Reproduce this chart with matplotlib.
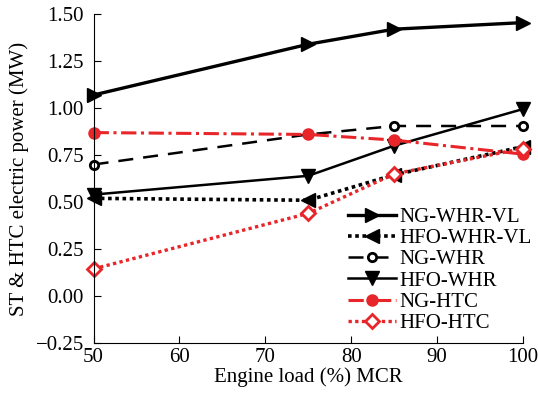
import matplotlib
matplotlib.use("Agg")
import matplotlib.pyplot as plt

plt.rcParams['font.family'] = ['Liberation Serif', 'DejaVu Serif']

load = [50, 75, 85, 100]
ng_whr_vl = [1.07, 1.34, 1.42, 1.455]
hfo_whr_vl = [0.52, 0.51, 0.645, 0.795]
ng_whr = [0.70, 0.86, 0.905, 0.905]
hfo_whr = [0.54, 0.64, 0.80, 0.995]
ng_htc = [0.87, 0.86, 0.83, 0.755]
hfo_htc = [0.145, 0.44, 0.65, 0.785]

fig = plt.figure(figsize=(5.38, 3.93), dpi=100)
ax = fig.add_axes([0.174, 0.127, 0.798, 0.837])

red = '#e8262a'
ax.plot(load, ng_whr_vl, color='black', lw=2.4, marker='>', ms=10, label='NG-WHR-VL', clip_on=False, zorder=5)
ax.plot(load, hfo_whr_vl, color='black', lw=2.6, ls=(0, (1, 1)), marker='<', ms=10, label='HFO-WHR-VL', clip_on=False)
ax.plot(load, ng_whr, color='black', lw=1.8, ls=(0, (6, 4)), marker='o', ms=6, mfc='white', mew=2, label='NG-WHR', clip_on=False)
ax.plot(load, hfo_whr, color='black', lw=1.8, marker='v', ms=10, mfc='black', label='HFO-WHR', clip_on=False)
ax.plot(load, ng_htc, color=red, lw=2.2, ls=(0, (5, 1.5, 1, 1.5)), marker='o', ms=8, label='NG-HTC', clip_on=False)
ax.plot(load, hfo_htc, color=red, lw=2.4, ls=(0, (1, 1)), marker='D', ms=7, mfc='white', mew=2, label='HFO-HTC', clip_on=False)

ax.set_xlim(50, 100)
ax.set_ylim(-0.25, 1.5)
ax.set_xticks([50, 60, 70, 80, 90, 100])
ax.set_yticks([-0.25, 0, 0.25, 0.5, 0.75, 1.0, 1.25, 1.5])
ax.set_yticklabels(['\u22120.25', '0.00', '0.25', '0.50', '0.75', '1.00', '1.25', '1.50'])
ax.tick_params(direction='in', labelsize=15, length=5)
ax.tick_params(axis='y', pad=7)
ax.spines['top'].set_visible(False)
ax.spines['right'].set_visible(False)
ax.set_xlabel('Engine load (%) MCR', fontsize=15, labelpad=0)
ax.set_ylabel('ST & HTC electric power (MW)', fontsize=15, labelpad=5)

ax.legend(loc='lower right', frameon=False, fontsize=15, handlelength=2.3,
          handletextpad=0.15, labelspacing=0.08, borderaxespad=0, borderpad=0,
          bbox_to_anchor=(1.02, 0.03))

fig.savefig('out.png', dpi=100)
